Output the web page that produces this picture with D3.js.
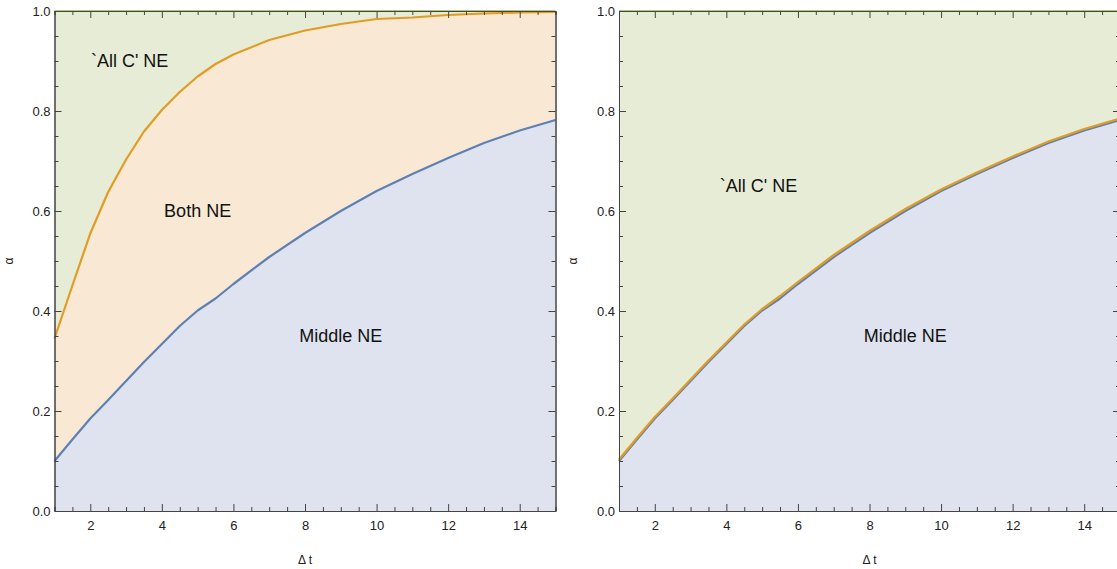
<!DOCTYPE html>
<html>
<head>
<meta charset="utf-8">
<script src="https://cdn.jsdelivr.net/npm/d3@7"></script>
<style>
  body { margin: 0; background: #fff; }
  svg { display: block; font-family: "Liberation Sans", Arial, sans-serif; }
  .axis text { font-size: 13px; fill: #222; }
  .axis path, .axis line { stroke: #444; }
  .region { font-size: 18px; fill: #111; }
</style>
</head>
<body>
<svg id="chart" width="1117" height="569"></svg>
<script>
// delta t grid shared by all curves
const dt = [1, 1.5, 2, 2.5, 3, 3.5, 4, 4.5, 5, 5.5, 6, 7, 8, 9, 10, 11, 12, 13, 14, 15];

// lower boundary (Middle NE), same in both panels
const middleBound = [0.100, 0.143, 0.185, 0.222, 0.260, 0.298, 0.334, 0.370, 0.401, 0.425,
  0.454, 0.508, 0.556, 0.600, 0.640, 0.674, 0.706, 0.736, 0.761, 0.782];
// upper boundary, left panel
const allCLeft = [0.345, 0.451, 0.555, 0.638, 0.703, 0.759, 0.802, 0.838, 0.869, 0.894,
  0.913, 0.942, 0.961, 0.974, 0.984, 0.987, 0.992, 0.995, 0.997, 0.998];
// upper boundary, right panel (sits just on top of the blue one)
const allCRight = [0.103, 0.146, 0.188, 0.225, 0.263, 0.301, 0.337, 0.373, 0.404, 0.430,
  0.458, 0.512, 0.560, 0.604, 0.643, 0.677, 0.709, 0.739, 0.764, 0.785];

const xTicks = [2, 4, 6, 8, 10, 12, 14];
const yTicks = [0, 0.2, 0.4, 0.6, 0.8, 1.0];

const panels = [
  { x0: 54.5, x1: 555.5, upper: allCLeft,
    labels: [{ t: "`All C' NE", x: 3.1, y: 0.9 }, { t: "Both NE", x: 5.0, y: 0.6 }, { t: "Middle NE", x: 9.0, y: 0.35 }] },
  { x0: 619, x1: 1120, upper: allCRight,
    labels: [{ t: "`All C' NE", x: 4.9, y: 0.65 }, { t: "Middle NE", x: 9.0, y: 0.35 }] }
];

const colGreen = "#e7ecd7", colOrange = "#f9e9d4", colBlue = "#dee3ef";
const lineOrange = "#e19c24", lineBlue = "#5e81b5";

const svg = d3.select("#chart");
const plotTop = 11, plotBottom = 511;

panels.forEach((p) => {
  const x = d3.scaleLinear().domain([1, 15]).range([p.x0, p.x1]);
  const y = d3.scaleLinear().domain([0, 1]).range([plotBottom, plotTop]);
  const g = svg.append("g");

  const lo = dt.map((d, k) => [d, middleBound[k]]);
  const hi = dt.map((d, k) => [d, p.upper[k]]);

  g.append("rect")
    .attr("x", x(1)).attr("y", y(1))
    .attr("width", x(15) - x(1)).attr("height", y(0) - y(1))
    .attr("fill", colGreen);

  const area = d3.area().x(d => x(d[0])).y0(y(0)).y1(d => y(d[1]));
  const line = d3.line().x(d => x(d[0])).y(d => y(d[1]));

  g.append("path").datum(hi).attr("d", area).attr("fill", colOrange);
  g.append("path").datum(lo).attr("d", area).attr("fill", colBlue);

  // green boundary along the top
  g.append("line")
    .attr("x1", x(1)).attr("x2", x(15)).attr("y1", y(1)).attr("y2", y(1))
    .attr("stroke", "#b5c86a").attr("stroke-width", 2);

  g.append("path").datum(lo).attr("d", line).attr("fill", "none")
    .attr("stroke", lineBlue).attr("stroke-width", 2.2).attr("stroke-linejoin", "round");
  g.append("path").datum(hi).attr("d", line).attr("fill", "none")
    .attr("stroke", lineOrange).attr("stroke-width", 2.2).attr("stroke-linejoin", "round");

  p.labels.forEach(l => {
    g.append("text").attr("class", "region")
      .attr("x", x(l.x)).attr("y", y(l.y)).attr("dy", "0.35em")
      .attr("text-anchor", "middle").text(l.t);
  });

  // minor ticks
  const xMinor = d3.range(1, 15.01, 0.5).filter(v => !xTicks.includes(v));
  const yMinor = d3.range(0, 1.001, 0.05).map(v => +v.toFixed(2)).filter(v => Math.abs(v * 5 - Math.round(v * 5)) > 1e-6);

  const addAxis = (gen, tf) => g.append("g").attr("class", "axis").attr("transform", tf).call(gen);

  addAxis(d3.axisBottom(x).tickValues(xMinor).tickSize(-4).tickFormat(""), `translate(0,${plotBottom})`);
  addAxis(d3.axisTop(x).tickValues(xMinor).tickSize(-4).tickFormat(""), `translate(0,${plotTop})`);
  addAxis(d3.axisLeft(y).tickValues(yMinor).tickSize(-4).tickFormat(""), `translate(${p.x0},0)`);
  addAxis(d3.axisRight(y).tickValues(yMinor).tickSize(-4).tickFormat(""), `translate(${p.x1},0)`);

  addAxis(d3.axisBottom(x).tickValues(xTicks).tickSize(-7).tickSizeOuter(0).tickPadding(10).tickFormat(d3.format("d")), `translate(0,${plotBottom})`);
  addAxis(d3.axisTop(x).tickValues(xTicks).tickSize(-7).tickSizeOuter(0).tickFormat(""), `translate(0,${plotTop})`);
  addAxis(d3.axisLeft(y).tickValues(yTicks).tickSize(-7).tickSizeOuter(0).tickPadding(4).tickFormat(d3.format(".1f")), `translate(${p.x0},0)`);
  addAxis(d3.axisRight(y).tickValues(yTicks).tickSize(-7).tickSizeOuter(0).tickFormat(""), `translate(${p.x1},0)`);

  g.append("text").attr("x", (p.x0 + p.x1) / 2).attr("y", 564)
    .attr("text-anchor", "middle").attr("font-size", 12).attr("fill", "#222").text("Δ t");
  g.append("text").attr("transform", `translate(${p.x0 - 42},261) rotate(-90)`)
    .attr("text-anchor", "middle").attr("font-size", 12).attr("fill", "#222").text("α");
});
</script>
</body>
</html>
